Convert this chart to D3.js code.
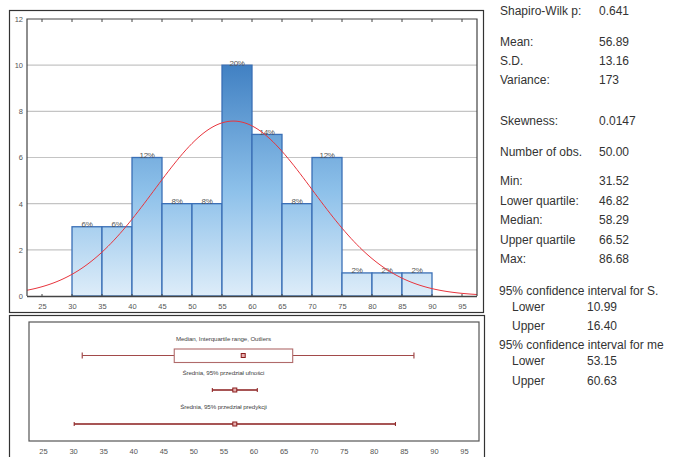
<!DOCTYPE html>
<html><head><meta charset="utf-8">
<script src="https://cdn.jsdelivr.net/npm/d3@7"></script>
<style>body{margin:0;background:#fff;} svg{display:block;}</style>
</head><body>
<svg id="c" width="673" height="457"></svg>
<script>
// ---- data ----
const binStarts = [30,35,40,45,50,55,60,65,70,75,80,85];
const binWidth = 5;
const counts = [3,3,6,4,4,10,7,4,6,1,1,1];
const yTicks = [0,2,4,6,8,10,12];
const xTicks = [25,30,35,40,45,50,55,60,65,70,75,80,85,90,95];
const mean = 56.89, sd = 13.16, nObs = 50;
const boxStats = {min:31.52, q1:46.82, median:58.29, q3:66.52, max:86.68};
const ciMean = [53.15, 60.63];
const predInt = [30.18, 83.60];
const boxLabels = ["Median, Interquartile range, Outliers","Średnia, 95% przedział ufności","Średnia, 95% przedział predykcji"];
const statLabels = ["Shapiro-Wilk p:","Mean:","S.D.","Variance:","Skewness:","Number of obs.","Min:","Lower quartile:","Median:","Upper quartile","Max:"];
const statValues = ["0.641","56.89","13.16","173","0.0147","50.00","31.52","46.82","58.29","66.52","86.68"];
const statY = [15,46,65,84,125,156,185,205,224,244,263];
const ciHeads = ["95% confidence interval for S.","95% confidence interval for me"];
const ciSubLabels = ["Lower","Upper"];
const ciSD = ["10.99","16.40"];
const ciMeanTxt = ["53.15","60.63"];

const svg = d3.select("#c");
const font = "Liberation Sans, Arial, sans-serif";

const defs = svg.append("defs");

// ---- top panel ----
svg.append("rect").attr("x",9.5).attr("y",10.5).attr("width",474).attr("height",302)
  .attr("fill","none").attr("stroke","#333").attr("stroke-width",1.2);

const x = d3.scaleLinear().domain([22.5,97.5]).range([27,477]);
const y = d3.scaleLinear().domain([0,12]).range([296,19]);

const grad = defs.append("linearGradient").attr("id","bg").attr("gradientUnits","userSpaceOnUse")
  .attr("x1",0).attr("x2",0).attr("y1",y(0)).attr("y2",y(10));
grad.append("stop").attr("offset","0%").attr("stop-color","#deedf9");
grad.append("stop").attr("offset","45%").attr("stop-color","#8ec1ea");
grad.append("stop").attr("offset","100%").attr("stop-color","#4181c3");

// grid
svg.append("g").selectAll("line").data(yTicks.filter(d=>d>0&&d<12)).join("line")
  .attr("x1",x.range()[0]).attr("x2",x.range()[1]).attr("y1",d=>y(d)).attr("y2",d=>y(d))
  .attr("stroke","#c4c4c4").attr("stroke-width",1.2);

// bars
const total = d3.sum(counts);
const bars = svg.append("g");
bars.selectAll("rect").data(binStarts).join("rect")
  .attr("x",d=>x(d)).attr("width",d=>x(d+binWidth)-x(d))
  .attr("y",(d,i)=>y(counts[i])).attr("height",(d,i)=>y(0)-y(counts[i]))
  .attr("fill","url(#bg)").attr("stroke","#3a6fb6").attr("stroke-width",1.3);
bars.selectAll("text").data(binStarts).join("text")
  .attr("x",d=>x(d+binWidth/2)).attr("y",(d,i)=>y(counts[i])+0.5)
  .attr("text-anchor","middle").attr("font-family",font).attr("font-size",8)
  .attr("fill","#555").attr("letter-spacing",-0.4)
  .text((d,i)=>Math.round(counts[i]/total*100)+"%");

// normal curve
const pdf = v => nObs*binWidth*Math.exp(-0.5*((v-mean)/sd)**2)/(sd*Math.sqrt(2*Math.PI));
const curvePts = d3.range(22.5,97.51,0.5);
svg.append("path").datum(curvePts)
  .attr("d",d3.line().x(d=>x(d)).y(d=>y(pdf(d))))
  .attr("fill","none").attr("stroke","#e8353d").attr("stroke-width",1);

// frame of plot
svg.append("path").attr("d",`M${x.range()[0]},${y(0)}V${y(12)}H${x.range()[1]}V${y(0)}`)
  .attr("fill","none").attr("stroke","#444").attr("stroke-width",1.2);
svg.append("line").attr("x1",x.range()[0]).attr("x2",x.range()[1]).attr("y1",y(0)+0.5).attr("y2",y(0)+0.5)
  .attr("stroke","#444").attr("stroke-width",1.5);

// axes
const yAx = svg.append("g").attr("transform",`translate(${x.range()[0]},0)`)
  .call(d3.axisLeft(y).tickValues(yTicks).tickSize(0).tickPadding(4).tickFormat(d3.format("d")));
yAx.select(".domain").remove();
yAx.selectAll("text").attr("font-family",font).attr("font-size",7.5).attr("fill","#555");

const xAx = svg.append("g").attr("transform",`translate(0,${y(0)})`)
  .call(d3.axisBottom(x).tickValues(xTicks).tickSize(0).tickPadding(8).tickFormat(d3.format("d")));
xAx.select(".domain").remove();
xAx.selectAll("text").attr("font-family",font).attr("font-size",7.5).attr("fill","#555");
svg.append("g").selectAll("line").data(xTicks).join("line")
  .attr("x1",d=>x(d)).attr("x2",d=>x(d)).attr("y1",y(12)).attr("y2",y(12)+3)
  .attr("stroke","#444");
svg.append("g").selectAll("line").data(xTicks).join("line")
  .attr("x1",d=>x(d)).attr("x2",d=>x(d)).attr("y1",y(0)).attr("y2",y(0)-2)
  .attr("stroke","#444");

// ---- bottom panel ----
svg.append("rect").attr("x",9.5).attr("y",315.5).attr("width",475).attr("height",150)
  .attr("fill","none").attr("stroke","#333").attr("stroke-width",1.2);
const xb = d3.scaleLinear().domain([22.5,97.5]).range([28,479]);
svg.append("rect").attr("x",29).attr("y",322).attr("width",450).attr("height",119)
  .attr("fill","none").attr("stroke","#555").attr("stroke-width",1.2);
const xbAx = svg.append("g").attr("transform",`translate(0,441)`)
  .call(d3.axisBottom(xb).tickValues(xTicks).tickSize(0).tickPadding(8).tickFormat(d3.format("d")));
xbAx.select(".domain").remove();
xbAx.selectAll("text").attr("font-family",font).attr("font-size",7.5).attr("fill","#555");

const lineCol = "#a24a4a", markCol = "#8a1c1c";
const labelY = [341,375,409];
svg.append("g").selectAll("text").data(boxLabels).join("text")
  .attr("x",xb(55)).attr("y",(d,i)=>labelY[i])
  .attr("text-anchor","middle").attr("font-family",font).attr("font-size",6.2)
  .attr("fill","#444").attr("letter-spacing",-0.1).text(d=>d);

// box plot
const by = 355.5;
const g = svg.append("g").attr("stroke",lineCol).attr("fill","none");
g.append("line").attr("x1",xb(boxStats.min)).attr("x2",xb(boxStats.q1)).attr("y1",by).attr("y2",by).attr("stroke-width",1.2);
g.append("line").attr("x1",xb(boxStats.q3)).attr("x2",xb(boxStats.max)).attr("y1",by).attr("y2",by).attr("stroke-width",1.2);
g.append("rect").attr("x",xb(boxStats.q1)).attr("y",349).attr("width",xb(boxStats.q3)-xb(boxStats.q1)).attr("height",13.5)
  .attr("stroke","#b06a6a").attr("stroke-width",1.1).attr("fill","#fff");
[boxStats.min,boxStats.max].forEach(v=>g.append("line").attr("x1",xb(v)).attr("x2",xb(v)).attr("y1",by-3).attr("y2",by+3).attr("stroke-width",1.2));
function marker(v,yy){
  svg.append("rect").attr("x",xb(v)-2).attr("y",yy-2).attr("width",4).attr("height",4)
    .attr("fill","#e6b0b0").attr("stroke",markCol).attr("stroke-width",1);
}
marker(boxStats.median, by);

const cy = 390;
g.append("line").attr("x1",xb(ciMean[0])).attr("x2",xb(ciMean[1])).attr("y1",cy).attr("y2",cy).attr("stroke",markCol).attr("stroke-width",1.3);
ciMean.forEach(v=>g.append("line").attr("x1",xb(v)).attr("x2",xb(v)).attr("y1",cy-2).attr("y2",cy+2).attr("stroke",markCol));
marker(mean, cy);
const py = 424;
g.append("line").attr("x1",xb(predInt[0])).attr("x2",xb(predInt[1])).attr("y1",py).attr("y2",py).attr("stroke",markCol).attr("stroke-width",1.3);
predInt.forEach(v=>g.append("line").attr("x1",xb(v)).attr("x2",xb(v)).attr("y1",py-2).attr("y2",py+2).attr("stroke",markCol));
marker(mean, py);

// ---- stats text ----
const st = svg.append("g").attr("font-family",font).attr("font-size",12).attr("fill","#333");
st.selectAll("text.l").data(statLabels).join("text").attr("class","l")
  .attr("x",500).attr("y",(d,i)=>statY[i]).text(d=>d);
st.selectAll("text.v").data(statValues).join("text").attr("class","v")
  .attr("x",599).attr("y",(d,i)=>statY[i]).text(d=>d);
const headY = [295,349];
const subY = [[311,330],[365,385]];
const subVals = [ciSD, ciMeanTxt];
ciHeads.forEach((h,k)=>{
  st.append("text").attr("x",499).attr("y",headY[k]).text(h);
  ciSubLabels.forEach((s,j)=>{
    st.append("text").attr("x",512).attr("y",subY[k][j]).text(s);
    st.append("text").attr("x",587).attr("y",subY[k][j]).text(subVals[k][j]);
  });
});
</script>
</body></html>
